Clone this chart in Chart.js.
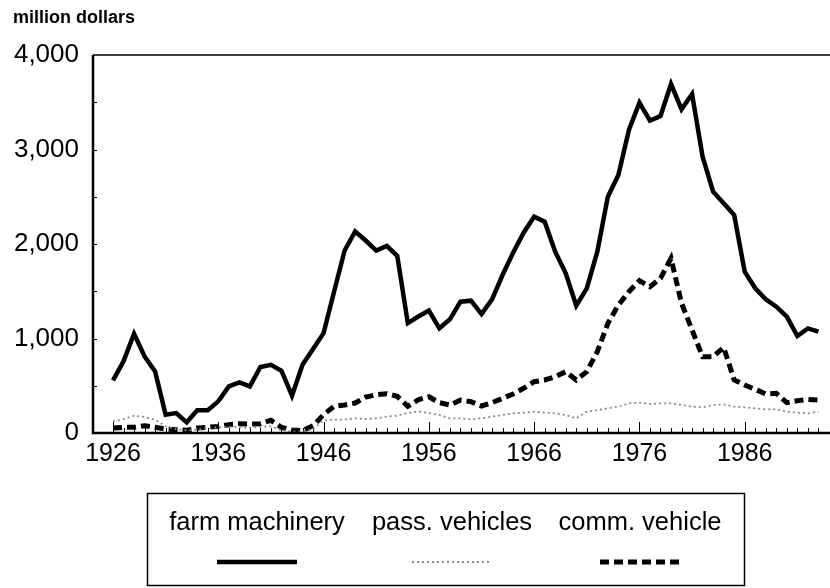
<!DOCTYPE html>
<html lang="en">
<head>
    <meta charset="UTF-8">
    <title>Sales of farm machinery and vehicles</title>
    <script src="https://cdn.jsdelivr.net/npm/chart.js"></script>
    <style>
        body {
            margin: 0;
            padding: 0;
            background: #fff;
        }
        .chart-container {
            position: relative;
            width: 830px;
            height: 588px;
        }
    </style>
</head>
<body>
    <div class="chart-container">
        <canvas id="salesChart" width="830" height="588"></canvas>
    </div>

    <script>
        // years on the x axis
        const years = [
            1926, 1927, 1928, 1929, 1930, 1931, 1932, 1933, 1934, 1935,
            1936, 1937, 1938, 1939, 1940, 1941, 1942, 1943, 1944, 1945,
            1946, 1947, 1948, 1949, 1950, 1951, 1952, 1953, 1954, 1955,
            1956, 1957, 1958, 1959, 1960, 1961, 1962, 1963, 1964, 1965,
            1966, 1967, 1968, 1969, 1970, 1971, 1972, 1973, 1974, 1975,
            1976, 1977, 1978, 1979, 1980, 1981, 1982, 1983, 1984, 1985,
            1986, 1987, 1988, 1989, 1990, 1991, 1992, 1993
        ];

        // million dollars
        const farmMachinery = [
            557, 758, 1050, 810, 652, 194, 211, 113, 240, 240,
            335, 493, 536, 493, 698, 722, 659, 395, 722, 888,
            1057, 1498, 1931, 2132, 2037, 1931, 1980, 1875, 1163, 1233,
            1295, 1108, 1203, 1390, 1400, 1259, 1414, 1672, 1908, 2120,
            2289, 2236, 1919, 1689, 1347, 1531, 1919, 2501, 2730, 3206,
            3495, 3305, 3354, 3693, 3425, 3587, 2924, 2554, 2430, 2307,
            1707, 1531, 1414, 1337, 1231, 1026, 1107, 1072
        ];
        const passVehicles = [
            123, 148, 183, 169, 141, 70, 42, 28, 35, 53,
            60, 65, 60, 55, 65, 70, 30, 15, 15, 40,
            134, 141, 141, 155, 148, 155, 173, 183, 211, 229,
            211, 190, 155, 155, 145, 155, 173, 190, 208, 215,
            226, 215, 208, 190, 155, 226, 243, 261, 279, 314,
            321, 307, 314, 314, 296, 279, 272, 296, 303, 279,
            272, 261, 250, 250, 226, 215, 208, 226
        ];
        const commVehicle = [
            53, 60, 60, 77, 60, 42, 35, 28, 53, 60,
            70, 88, 99, 95, 99, 134, 60, 32, 25, 77,
            194, 282, 296, 317, 380, 405, 416, 388, 282, 352,
            384, 321, 296, 349, 332, 286, 321, 367, 413, 473,
            543, 561, 596, 649, 561, 649, 861, 1160, 1354, 1495,
            1612, 1548, 1637, 1848, 1372, 1090, 808, 808, 906, 561,
            508, 462, 413, 420, 321, 342, 356, 349
        ];

        const xTickYears = [1926, 1936, 1946, 1956, 1966, 1976, 1986];
        const yTickValues = [0, 1000, 2000, 3000, 4000];
        const yMinorValues = [500, 1000, 1500, 2000, 2500, 3000, 3500];

        const FONT = '"Liberation Sans", Arial, Helvetica, sans-serif';

        function points(values) {
            return years.map((yr, i) => ({ x: yr, y: values[i] }));
        }

        // axis frame, inside ticks, title and boxed legend
        const framePlugin = {
            id: 'frame',
            beforeDatasetsDraw(chart) {
                const { ctx, chartArea: a, scales: { x, y } } = chart;
                ctx.save();
                ctx.strokeStyle = '#000';
                ctx.lineWidth = 1;
                years.forEach(yr => {
                    const px = Math.round(x.getPixelForValue(yr)) + 0.5;
                    const len = xTickYears.includes(yr) ? 11 : 5;
                    ctx.beginPath();
                    ctx.moveTo(px, a.bottom);
                    ctx.lineTo(px, a.bottom - len);
                    ctx.stroke();
                });
                yMinorValues.forEach(v => {
                    const py = Math.round(y.getPixelForValue(v)) + 0.5;
                    ctx.beginPath();
                    ctx.moveTo(a.left, py);
                    ctx.lineTo(a.left + 4, py);
                    ctx.stroke();
                });
                ctx.restore();
            },
            afterDraw(chart) {
                const { ctx, chartArea: a } = chart;
                ctx.save();
                ctx.strokeStyle = '#000';
                // top line
                ctx.lineWidth = 1.5;
                ctx.beginPath();
                ctx.moveTo(a.left, a.top);
                ctx.lineTo(a.right, a.top);
                ctx.stroke();
                // left and bottom axes
                ctx.lineWidth = 2.5;
                ctx.beginPath();
                ctx.moveTo(a.left, a.top);
                ctx.lineTo(a.left, a.bottom);
                ctx.lineTo(a.right, a.bottom);
                ctx.stroke();

                // unit title
                ctx.fillStyle = '#000';
                ctx.font = 'bold 18px ' + FONT;
                ctx.textAlign = 'left';
                ctx.textBaseline = 'alphabetic';
                ctx.fillText('million dollars', 13, 23);

                // legend box
                ctx.lineWidth = 1.5;
                ctx.strokeRect(147.5, 493.5, 597, 92);
                const centers = [257, 452, 640];
                ctx.font = '25.5px ' + FONT;
                ctx.textAlign = 'center';
                chart.data.datasets.forEach((ds, i) => {
                    ctx.fillText(ds.label, centers[i], 530);
                    ctx.save();
                    ctx.strokeStyle = ds.borderColor;
                    ctx.lineWidth = ds.borderWidth;
                    ctx.setLineDash(ds.borderDash || []);
                    ctx.beginPath();
                    ctx.moveTo(centers[i] - 40, 562);
                    ctx.lineTo(centers[i] + 40, 562);
                    ctx.stroke();
                    ctx.restore();
                });
                ctx.restore();
            }
        };

        const ctx = document.getElementById('salesChart').getContext('2d');
        const salesChart = new Chart(ctx, {
            type: 'line',
            data: {
                datasets: [
                    {
                        label: 'farm machinery',
                        data: points(farmMachinery),
                        borderColor: '#000',
                        borderWidth: 4.5,
                        pointRadius: 0,
                        tension: 0
                    },
                    {
                        label: 'pass. vehicles',
                        data: points(passVehicles),
                        borderColor: '#8a8a8a',
                        borderWidth: 1.8,
                        borderDash: [2, 3],
                        pointRadius: 0,
                        tension: 0
                    },
                    {
                        label: 'comm. vehicle',
                        data: points(commVehicle),
                        borderColor: '#000',
                        borderWidth: 5,
                        borderDash: [9, 5],
                        pointRadius: 0,
                        tension: 0
                    }
                ]
            },
            options: {
                responsive: false,
                animation: false,
                layout: { padding: { top: 55, left: 0, right: 0, bottom: 0 } },
                plugins: {
                    legend: { display: false },
                    title: { display: false },
                    tooltip: { enabled: false }
                },
                scales: {
                    x: {
                        type: 'linear',
                        min: 1924.1,
                        max: 1994.1,
                        afterBuildTicks: scale => {
                            scale.ticks = xTickYears.map(v => ({ value: v }));
                        },
                        afterFit: scale => { scale.height = 155; },
                        grid: { display: false, drawTicks: false },
                        border: { display: false },
                        ticks: {
                            padding: 6,
                            color: '#000',
                            font: { family: FONT, size: 25 },
                            maxRotation: 0,
                            autoSkip: false,
                            callback: v => String(v)
                        }
                    },
                    y: {
                        min: 0,
                        max: 4000,
                        afterBuildTicks: scale => {
                            scale.ticks = yTickValues.map(v => ({ value: v }));
                        },
                        afterFit: scale => { scale.width = 93; },
                        grid: { display: false, drawTicks: false },
                        border: { display: false },
                        ticks: {
                            padding: 14,
                            color: '#000',
                            font: { family: FONT, size: 26 },
                            callback: v => v.toLocaleString('en-US')
                        }
                    }
                }
            },
            plugins: [framePlugin]
        });
    </script>
</body>
</html>
